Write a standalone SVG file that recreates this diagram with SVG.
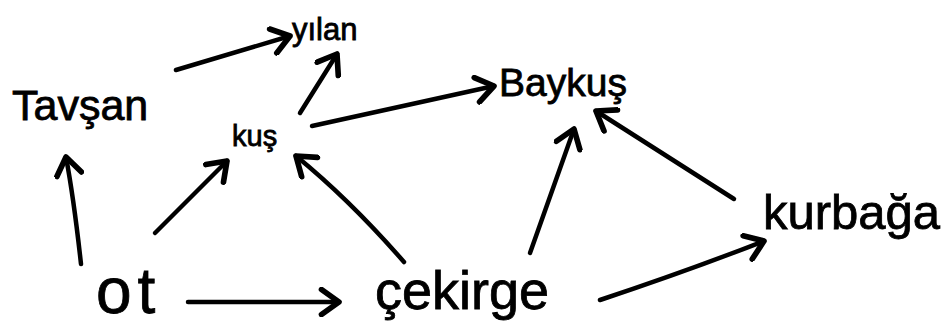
<svg xmlns="http://www.w3.org/2000/svg" width="941" height="329" viewBox="0 0 941 329">
  <style>
    .lbl { font-family: "Liberation Sans", "DejaVu Sans", sans-serif; fill: #000; stroke: #000; stroke-width: 0.8; }
    .edge { fill: none; stroke: #000; stroke-width: 4.5; stroke-linecap: round; marker-end: url(#head); }
  </style>
  <defs>
    <marker id="head" markerUnits="userSpaceOnUse" markerWidth="30" markerHeight="30" viewBox="-16 -12 20 24" refX="0" refY="0" orient="auto">
      <path d="M-14,-10 L0,0 L-14,10" fill="none" stroke="#000" stroke-width="4.5" stroke-linecap="round" stroke-linejoin="round"/>
    </marker>
  </defs>
  <rect width="941" height="329" fill="#fff"/>

  <g id="connectors">
    <path class="edge" d="M176,70 L290,36"/>
    <path class="edge" d="M300,113 L337,54"/>
    <path class="edge" d="M312,126 L494,86"/>
    <path class="edge" d="M81,264 Q74,200 66,157"/>
    <path class="edge" d="M155,233 L227,161"/>
    <path class="edge" d="M404,262 Q350,200 296,156"/>
    <path class="edge" d="M188,302 L339,302"/>
    <path class="edge" d="M530,253 L574,129"/>
    <path class="edge" d="M734,199 L596,111"/>
    <path class="edge" d="M600,300 Q690,270 764,241"/>
  </g>

  <g id="tavsan"><text class="lbl" x="12" y="120" font-size="43">Tavşan</text></g>
  <g id="yilan"><text class="lbl" x="292" y="40" font-size="31">yılan</text></g>
  <g id="kus"><text class="lbl" x="232" y="146" font-size="29">kuş</text></g>
  <g id="baykus"><text class="lbl" x="499" y="96" font-size="39">Baykuş</text></g>
  <g id="kurbaga"><text class="lbl" x="763" y="229" font-size="49">kurbağa</text></g>
  <g id="ot"><text class="lbl" x="96" y="313" font-size="64" letter-spacing="6">ot</text></g>
  <g id="cekirge"><text class="lbl" x="375" y="309" font-size="54">çekirge</text></g>
</svg>
